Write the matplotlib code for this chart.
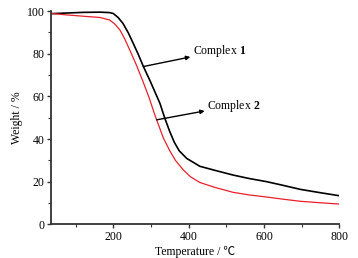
import matplotlib
matplotlib.use("Agg")
import matplotlib.pyplot as plt
from matplotlib.ticker import MultipleLocator

plt.rcParams['font.family'] = ['Liberation Serif', 'Noto Sans CJK SC', 'DejaVu Serif']
plt.rcParams['mathtext.fontset'] = 'custom'
plt.rcParams['mathtext.rm'] = 'Liberation Serif'
plt.rcParams['mathtext.bf'] = 'Liberation Serif:bold'

# Complex 1 (black)
t1 = [35, 77, 120, 165, 190, 200, 213, 226, 240, 253, 267, 280, 297, 324, 337, 350, 362, 375, 395, 430, 470, 518, 560, 607, 650, 696, 750, 800]
w1 = [98.8, 99.1, 99.4, 99.5, 99.3, 98.9, 97.0, 94.2, 89.8, 84.9, 79.5, 74.0, 67.6, 56.7, 49.7, 43.5, 38.5, 34.5, 30.9, 27.2, 25.3, 23.1, 21.5, 20.0, 18.3, 16.4, 14.8, 13.4]
# Complex 2 (red)
t2 = [35, 77, 120, 165, 191, 205, 218, 231, 244, 262, 280, 295, 311, 333, 350, 365, 386, 405, 430, 470, 518, 560, 607, 650, 696, 750, 800]
w2 = [98.9, 98.2, 97.6, 97.0, 95.8, 93.8, 91.1, 86.8, 81.7, 74.5, 66.5, 59.5, 51.0, 40.5, 34.5, 30.0, 25.5, 22.3, 19.6, 17.3, 15.0, 13.8, 12.8, 11.8, 10.8, 10.1, 9.5]

xticks = [200, 400, 600, 800]
yticks = [0, 20, 40, 60, 80, 100]

fig = plt.figure(figsize=(3.58, 2.58), dpi=100)
ax = fig.add_axes([0.1425, 0.1306, 0.8055, 0.8264])
ax.plot(t1, w1, color='black', lw=1.2)
ax.plot(t2, w2, color='#e8202a', lw=0.9)
ax.set_xlim(35, 800)
ax.set_ylim(0, 100)
ax.set_xticks(xticks)
ax.set_yticks(yticks)
ax.xaxis.set_minor_locator(MultipleLocator(100))
ax.yaxis.set_minor_locator(MultipleLocator(10))
for s in ['top', 'right']:
    ax.spines[s].set_visible(False)
for s in ['left', 'bottom']:
    ax.spines[s].set_linewidth(1.3)
    ax.spines[s].set_color('#333333')
ax.tick_params(which='major', length=3, width=1, labelsize=8.5, pad=1.5, colors='#333333', labelcolor='black')
ax.tick_params(which='minor', length=2, width=0.8, colors='#333333')
ax.set_xlabel('Temperature / ℃', fontsize=8.5, labelpad=2)
ax.set_ylabel('Weight / %', fontsize=8.5, labelpad=3)

ax.annotate(r'Complex $\mathbf{1}$', xy=(280, 74.0), xytext=(412, 81.3),
            fontsize=8.5, va='center', ha='left',
            arrowprops=dict(arrowstyle='<|-', color='black', lw=1, mutation_scale=6, shrinkA=0, shrinkB=0))
ax.annotate(r'Complex $\mathbf{2}$', xy=(315, 49.0), xytext=(450, 55.7),
            fontsize=8.5, va='center', ha='left',
            arrowprops=dict(arrowstyle='<|-', color='black', lw=1, mutation_scale=6, shrinkA=0, shrinkB=0))

fig.savefig('out.png', dpi=100)
